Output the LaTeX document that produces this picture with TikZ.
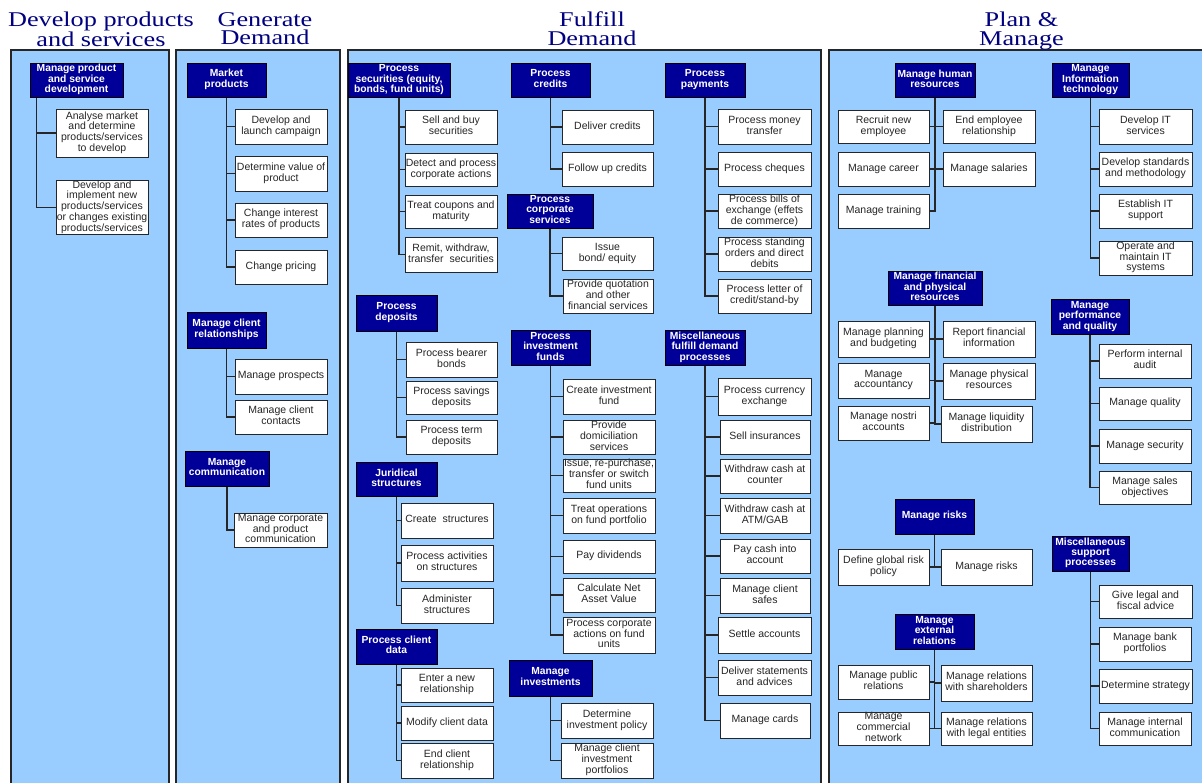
\documentclass[tikz,border=0pt]{standalone}
\usepackage{fontspec}
\setmainfont{Liberation Serif}
\newfontfamily\sansf{Liberation Sans}
\newfontfamily\titlef[FakeStretch=1.25]{Liberation Serif}
\definecolor{panelblue}{RGB}{153,204,255}
\definecolor{navybox}{RGB}{0,0,153}
\definecolor{titleblue}{RGB}{0,0,128}
\newcommand\bxtext[1]{\makebox[0pt]{\begin{tabular}{@{}c@{}}#1\end{tabular}}}
\newcommand\bx[7]{%
 \pgfmathsetmacro\bxw{#5-#3}\pgfmathsetmacro\bxh{#6-#4}%
 \pgfmathsetmacro\bxcx{(#3+#5)/2}\pgfmathsetmacro\bxcy{(#4+#6)/2}%
 \node[#1, minimum width=\bxw pt, minimum height=\bxh pt] (#2) at (\bxcx,\bxcy) {\bxtext{#7}};}
\begin{document}
\begin{tikzpicture}[x=1pt,y=-1pt,
  panel/.style={fill=panelblue,draw=black!85,line width=1.3pt},
  ttl/.style={font=\titlef\fontsize{21}{18.3}\selectfont,text=titleblue,align=center,inner sep=0,anchor=north},
  wbox/.style={draw=black!85,fill=white,line width=1pt,inner sep=0pt,
    font=\sansf\fontsize{10.5}{10.6}\selectfont,text=black!85},
  dbox/.style={draw=black,fill=navybox,line width=1pt,inner sep=0pt,
    font=\sansf\bfseries\fontsize{10.3}{10.1}\selectfont,text=white},
  conn/.style={draw=black!85,line width=1.1pt}]
\useasboundingbox (0,0) rectangle (1202,782);
% panels
\draw[panel] (11,50) rectangle (169,792);
\draw[panel] (176,50) rectangle (340,792);
\draw[panel] (348,50) rectangle (821,792);
\draw[panel] (829,50) rectangle (1212,792);
% titles
\node[ttl] (t1) at (101,12) {Develop products\\and services};
\node[ttl] (t2) at (265,12) {Generate\\Demand};
\node[ttl] (t3) at (592,12) {Fulfill\\Demand};
\node[ttl] (t4) at (1021.5,12) {Plan \&\\Manage};
% ---------- panel 1
\bx{dbox}{mpsd}{30}{63}{123}{97}{Manage product\\and service\\development}
\bx{wbox}{p1a}{56}{109}{148}{157}{Analyse market\\and determine\\products/services\\to develop}
\bx{wbox}{p1b}{56}{181}{148}{234}{Develop and\\implement new\\products/services\\or changes existing\\products/services}
\foreach \c in {p1a,p1b} \draw[conn] ([xshift=7pt]mpsd.south west) |- (\c.west);
% ---------- panel 2
\bx{dbox}{mkt}{187}{63}{266}{97}{Market\\products}
\bx{wbox}{g1}{235}{109}{327}{144}{Develop and\\launch campaign}
\bx{wbox}{g2}{235}{156}{327}{191}{Determine value of\\product}
\bx{wbox}{g3}{235}{203}{327}{237}{Change interest\\rates of products}
\bx{wbox}{g4}{235}{250}{327}{284}{Change pricing}
\foreach \c in {g1,g2,g3,g4} \draw[conn] (mkt.south) |- (\c.west);
\bx{dbox}{mcr}{187}{312}{266}{348}{Manage client\\relationships}
\bx{wbox}{g5}{235}{359}{327}{394}{Manage prospects}
\bx{wbox}{g6}{235}{400}{327}{434}{Manage client\\contacts}
\foreach \c in {g5,g6} \draw[conn] (mcr.south) |- (\c.west);
\bx{dbox}{mcom}{185}{451}{269}{486}{Manage\\communication}
\bx{wbox}{g7}{234}{513}{327}{547}{Manage corporate\\and product\\communication}
\draw[conn] (mcom.south) |- (g7.west);
% ---------- panel 3
\bx{dbox}{psec}{348}{63}{450}{97}{Process\\securities (equity,\\bonds, fund units)}
\bx{wbox}{f1}{405}{110}{497}{144}{Sell and buy\\securities}
\bx{wbox}{f2}{405}{153}{497}{186}{Detect and process\\corporate actions}
\bx{wbox}{f3}{405}{195}{497}{228}{Treat coupons and\\maturity}
\bx{wbox}{f4}{405}{237}{497}{272}{Remit, withdraw,\\transfer\ \ securities}
\foreach \c in {f1,f2,f3,f4} \draw[conn] (psec.south) |- (\c.west);
\bx{dbox}{pcred}{511}{63}{590}{97}{Process\\credits}
\bx{wbox}{f5}{562}{110}{653}{144}{Deliver credits}
\bx{wbox}{f6}{562}{152}{653}{186}{Follow up credits}
\foreach \c in {f5,f6} \draw[conn] (pcred.south) |- (\c.west);
\bx{dbox}{pcs}{507}{194}{593}{228}{Process\\corporate\\services}
\bx{wbox}{f7}{562}{237}{653}{270}{Issue\\bond/ equity}
\bx{wbox}{f8}{563}{279}{653}{313}{Provide quotation\\and other\\financial services}
\foreach \c in {f7,f8} \draw[conn] (pcs.south) |- (\c.west);
\bx{dbox}{ppay}{665}{63}{745}{97}{Process\\payments}
\bx{wbox}{f9}{718}{109}{811}{144}{Process money\\transfer}
\bx{wbox}{f10}{718}{152}{811}{186}{Process cheques}
\bx{wbox}{f11}{718}{194}{811}{228}{Process bills of\\exchange (effets\\de commerce)}
\bx{wbox}{f12}{718}{237}{811}{271}{Process standing\\orders and direct\\debits}
\bx{wbox}{f13}{718}{279}{811}{313}{Process letter of\\credit/stand-by}
\foreach \c in {f9,f10,f11,f12,f13} \draw[conn] (ppay.south) |- (\c.west);
\bx{dbox}{pdep}{356}{295}{437}{331}{Process\\deposits}
\bx{wbox}{f14}{406}{342}{497}{377}{Process bearer\\bonds}
\bx{wbox}{f15}{406}{381}{497}{414}{Process savings\\deposits}
\bx{wbox}{f16}{406}{420}{497}{454}{Process term\\deposits}
\foreach \c in {f14,f15,f16} \draw[conn] (pdep.south) |- (\c.west);
\bx{dbox}{jur}{356}{462}{437}{496}{Juridical\\structures}
\bx{wbox}{f17}{401}{503}{493}{538}{Create\ \ structures}
\bx{wbox}{f18}{401}{545}{493}{581}{Process activities\\on structures}
\bx{wbox}{f19}{401}{588}{493}{623}{Administer\\structures}
\foreach \c in {f17,f18,f19} \draw[conn] (jur.south) |- (\c.west);
\bx{dbox}{pcd}{356}{629}{437}{664}{Process client\\data}
\bx{wbox}{f20}{401}{668}{493}{702}{Enter a new\\relationship}
\bx{wbox}{f21}{401}{706}{493}{740}{Modify client data}
\bx{wbox}{f22}{401}{743}{493}{778}{End client\\relationship}
\foreach \c in {f20,f21,f22} \draw[conn] (pcd.south) |- (\c.west);
\bx{dbox}{pif}{511}{330}{590}{365}{Process\\investment\\funds}
\bx{wbox}{f23}{563}{379}{655}{414}{Create investment\\fund}
\bx{wbox}{f24}{563}{420}{655}{454}{Provide\\domiciliation\\services}
\bx{wbox}{f25}{563}{459}{655}{492}{Issue, re-purchase,\\transfer or switch\\fund units}
\bx{wbox}{f26}{563}{498}{655}{533}{Treat operations\\on fund portfolio}
\bx{wbox}{f27}{563}{540}{655}{573}{Pay dividends}
\bx{wbox}{f28}{563}{578}{655}{612}{Calculate Net\\Asset Value}
\bx{wbox}{f29}{563}{617}{655}{653}{Process corporate\\actions on fund\\units}
\foreach \c in {f23,f24,f25,f26,f27,f28,f29} \draw[conn] (pif.south) |- (\c.west);
\bx{dbox}{minv}{509}{660}{592}{696}{Manage\\investments}
\bx{wbox}{f30}{561}{703}{653}{738}{Determine\\investment policy}
\bx{wbox}{f31}{561}{743}{653}{778}{Manage client\\investment\\portfolios}
\foreach \c in {f30,f31} \draw[conn] (minv.south) |- (\c.west);
\bx{dbox}{mfd}{665}{330}{745}{365}{Miscellaneous\\fulfill demand\\processes}
\bx{wbox}{f32}{718}{378}{811}{415}{Process currency\\exchange}
\bx{wbox}{f33}{720}{420}{810}{454}{Sell insurances}
\bx{wbox}{f34}{720}{459}{810}{493}{Withdraw cash at\\counter}
\bx{wbox}{f35}{720}{498}{810}{533}{Withdraw cash at\\ATM/GAB}
\bx{wbox}{f36}{720}{539}{810}{573}{Pay cash into\\account}
\bx{wbox}{f37}{720}{578}{810}{613}{Manage client\\safes}
\bx{wbox}{f38}{718}{617}{811}{653}{Settle accounts}
\bx{wbox}{f39}{718}{660}{811}{695}{Deliver statements\\and advices}
\bx{wbox}{f40}{720}{703}{810}{738}{Manage cards}
\foreach \c in {f32,f33,f34,f35,f36,f37,f38,f39,f40} \draw[conn] (mfd.south) |- (\c.west);
% ---------- panel 4
\bx{dbox}{mhr}{895}{63}{975}{97}{Manage human\\resources}
\bx{wbox}{h1}{838}{110}{929}{143}{Recruit new\\employee}
\bx{wbox}{h2}{943}{110}{1035}{143}{End employee\\relationship}
\bx{wbox}{h3}{838}{152}{929}{186}{Manage career}
\bx{wbox}{h4}{943}{152}{1035}{186}{Manage salaries}
\bx{wbox}{h5}{838}{194}{929}{228}{Manage training}
\foreach \c in {h1,h3,h5} \draw[conn] (mhr.south) |- (\c.east);
\foreach \c in {h2,h4} \draw[conn] (mhr.south) |- (\c.west);
\bx{dbox}{mit}{1052}{63}{1129}{97}{Manage\\Information\\technology}
\bx{wbox}{h6}{1099}{109}{1192}{144}{Develop IT\\services}
\bx{wbox}{h7}{1099}{152}{1192}{186}{Develop standards\\and methodology}
\bx{wbox}{h8}{1099}{194}{1192}{228}{Establish IT\\support}
\bx{wbox}{h9}{1099}{241}{1192}{275}{Operate and\\maintain IT\\systems}
\foreach \c in {h6,h7,h8,h9} \draw[conn] (mit.south) |- (\c.west);
\bx{dbox}{mfin}{888}{271}{982}{305}{Manage financial\\and physical\\resources}
\bx{wbox}{h10}{838}{321}{929}{357}{Manage planning\\and budgeting}
\bx{wbox}{h11}{943}{321}{1035}{357}{Report financial\\information}
\bx{wbox}{h12}{838}{363}{929}{398}{Manage\\accountancy}
\bx{wbox}{h13}{943}{363}{1035}{399}{Manage physical\\resources}
\bx{wbox}{h14}{838}{406}{929}{440}{Manage nostri\\accounts}
\bx{wbox}{h15}{941}{406}{1032}{442}{Manage liquidity\\distribution}
\foreach \c in {h10,h12,h14} \draw[conn] (mfin.south) |- (\c.east);
\foreach \c in {h11,h13,h15} \draw[conn] (mfin.south) |- (\c.west);
\bx{dbox}{mpq}{1051}{299}{1129}{334}{Manage\\performance\\and quality}
\bx{wbox}{h16}{1099}{344}{1191}{378}{Perform internal\\audit}
\bx{wbox}{h17}{1099}{387}{1191}{420}{Manage quality}
\bx{wbox}{h18}{1099}{429}{1191}{463}{Manage security}
\bx{wbox}{h19}{1099}{471}{1191}{504}{Manage sales\\objectives}
\foreach \c in {h16,h17,h18,h19} \draw[conn] (mpq.south) |- (\c.west);
\bx{dbox}{mrisk}{895}{499}{974}{534}{Manage risks}
\bx{wbox}{h20}{838}{549}{929}{585}{Define global risk\\policy}
\bx{wbox}{h21}{941}{549}{1032}{585}{Manage risks}
\draw[conn] (mrisk.south) |- (h20.east);
\draw[conn] (mrisk.south) |- (h21.west);
\bx{dbox}{mext}{895}{614}{974}{649}{Manage\\external\\relations}
\bx{wbox}{h22}{838}{665}{929}{699}{Manage public\\relations}
\bx{wbox}{h23}{941}{665}{1032}{701}{Manage relations\\with shareholders}
\bx{wbox}{h24}{838}{712}{929}{745}{Manage\\commercial\\network}
\bx{wbox}{h25}{941}{712}{1032}{745}{Manage relations\\with legal entities}
\foreach \c in {h22,h24} \draw[conn] (mext.south) |- (\c.east);
\foreach \c in {h23,h25} \draw[conn] (mext.south) |- (\c.west);
\bx{dbox}{msup}{1052}{536}{1129}{571}{Miscellaneous\\support\\processes}
\bx{wbox}{h26}{1099}{585}{1192}{618}{Give legal and\\fiscal advice}
\bx{wbox}{h27}{1099}{627}{1191}{661}{Manage bank\\portfolios}
\bx{wbox}{h28}{1099}{669}{1192}{703}{Determine strategy}
\bx{wbox}{h29}{1099}{712}{1191}{745}{Manage internal\\communication}
\foreach \c in {h26,h27,h28,h29} \draw[conn] (msup.south) |- (\c.west);
\end{tikzpicture}
\end{document}
